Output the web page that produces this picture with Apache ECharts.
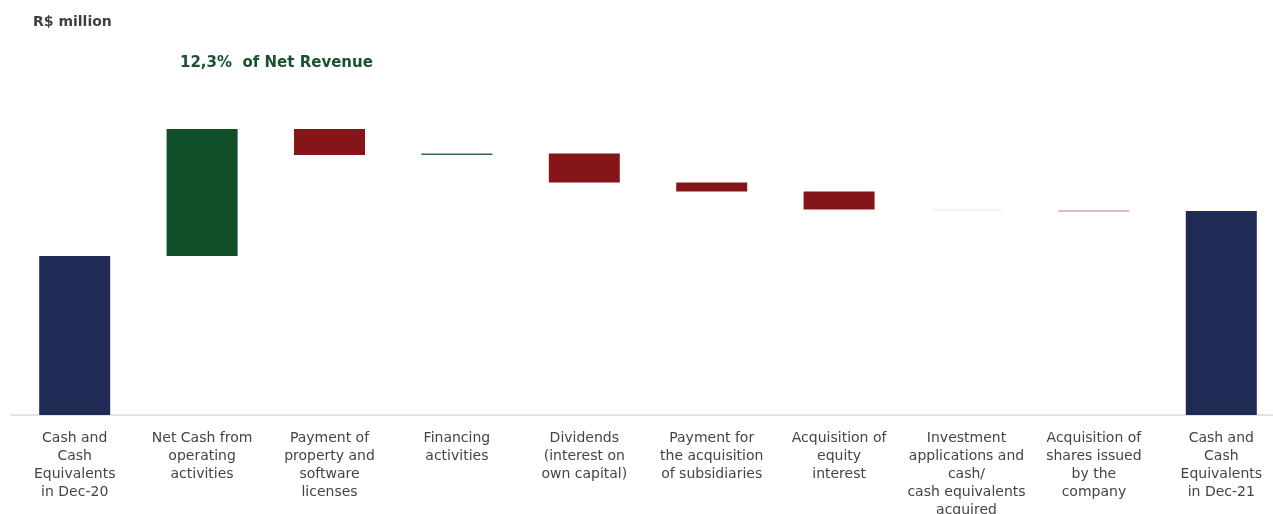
<!DOCTYPE html>
<html><head><meta charset="utf-8">
<script src="https://cdn.jsdelivr.net/npm/echarts@6/dist/echarts.min.js"></script>
<style>html,body{margin:0;padding:0;background:#fff}#c{width:1273px;height:514px}</style>
</head><body><div id="c"></div>
<script>
// Categories (x-axis labels)
var categories = [
  "Cash and\nCash\nEquivalents\nin Dec-20",
  "Net Cash from\noperating\nactivities",
  "Payment of\nproperty and\nsoftware\nlicenses",
  "Financing\nactivities",
  "Dividends\n(interest on\nown capital)",
  "Payment for\nthe acquisition\nof subsidiaries",
  "Acquisition of\nequity\ninterest",
  "Investment\napplications and\ncash/\ncash equivalents\nacquired",
  "Acquisition of\nshares issued\nby the\ncompany",
  "Cash and\nCash\nEquivalents\nin Dec-21"
];
// Step values (estimated, relative units); first and last are totals
var stepValues = [159, 127, -26, 1.5, -29, -9, -18, -0.8, -1.5, 204];
var isTotal = [true, false, false, false, false, false, false, false, false, true];
var barColors = ["#1f2a55", "#114f28", "#84161a", "#2f6b45", "#84161a", "#84161a", "#84161a", "#e2e5e5", "#d9a3a3", "#1f2a55"];

var baseData = [], barData = [];
var running = 0;
stepValues.forEach(function (v, i) {
  if (isTotal[i]) {
    baseData.push(0);
    barData.push({value: v, itemStyle: {color: barColors[i]}});
    running = v;
  } else if (v >= 0) {
    baseData.push(running);
    barData.push({value: v, itemStyle: {color: barColors[i]}});
    running += v;
  } else {
    running += v;
    baseData.push(running);
    barData.push({value: -v, itemStyle: {color: barColors[i]}});
  }
});

var chart = echarts.init(document.getElementById('c'));
chart.setOption({
  animation: false,
  backgroundColor: '#fff',
  graphic: [
    {type: 'text', left: 33, top: 15, style: {text: 'R$ million', font: 'bold 14px "DejaVu Sans", sans-serif', fill: '#404040'}},
    {type: 'text', left: 180, top: 56, style: {text: '12,3%  of Net Revenue', font: 'bold 15px "DejaVu Sans", sans-serif', fill: '#1a5230'}}
  ],
  grid: {left: 11, right: -12, top: 115, bottom: 99, containLabel: false, outerBoundsMode: 'none'},
  xAxis: {
    type: 'category',
    data: categories,
    axisLine: {lineStyle: {color: '#e3e3e3', width: 2}},
    axisTick: {show: false},
    axisLabel: {interval: 0, color: '#444444', fontFamily: '"DejaVu Sans", sans-serif', fontSize: 14, lineHeight: 18, margin: 14, align: 'center'}
  },
  yAxis: {type: 'value', min: 0, max: 300, show: false, splitLine: {show: false}},
  series: [
    {type: 'bar', stack: 'w', data: baseData, itemStyle: {color: 'transparent'}, barWidth: 71, silent: true},
    {type: 'bar', stack: 'w', data: barData, barWidth: 71}
  ]
});
</script></body></html>
